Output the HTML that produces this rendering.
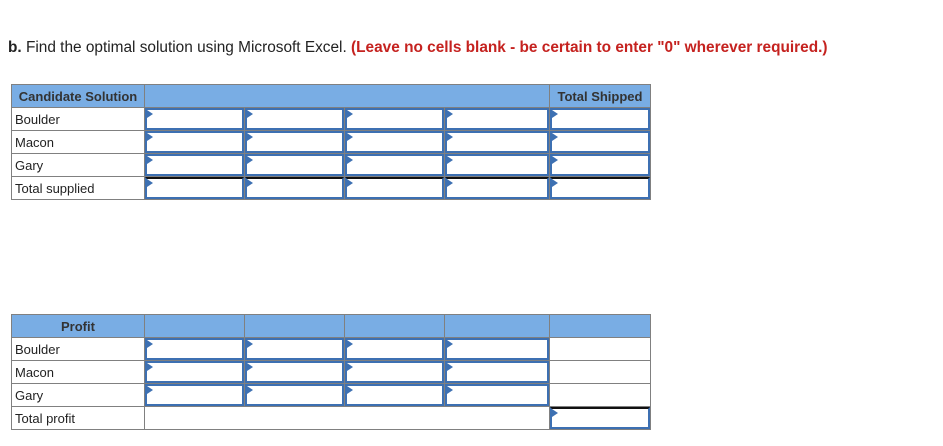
<!DOCTYPE html>
<html><head><style>
body{margin:0;width:943px;height:446px;background:#fff;font-family:"Liberation Sans",Arial,sans-serif;position:relative;overflow:hidden}
.t{position:absolute;left:8px;top:39px;font-size:15.4px;color:#222;white-space:nowrap}
.t b{font-weight:bold}
.r{color:#c5221f;font-weight:bold}
table{position:absolute;left:11px;border-collapse:collapse;table-layout:fixed}
td{border:1px solid #808080;height:23px;padding:0 3px;font-size:13px;color:#222;position:relative;box-sizing:border-box}
tr.h td{background:#79ade4;font-weight:bold;color:#333}
.i{position:absolute;left:0;top:0;right:0;bottom:0;border:2px solid #3d70b2}
.i.k{border-top-color:#111}
.i:before{content:"";position:absolute;left:0;top:0;border-left:6px solid #3d70b2;border-top:4px solid transparent;border-bottom:4px solid transparent}
</style></head><body>
<div class="t"><b>b.</b> Find the optimal solution using Microsoft Excel. <span class="r">(Leave no cells blank - be certain to enter "0" wherever required.)</span></div>
<table style="top:84px">
<colgroup><col style="width:133px"><col style="width:100px"><col style="width:100px"><col style="width:100px"><col style="width:105px"><col style="width:101px"></colgroup>
<tr class="h"><td style="text-align:center">Candidate Solution</td><td colspan="4"></td><td style="text-align:center">Total Shipped</td></tr>
<tr><td>Boulder</td><td><div class="i"></div></td><td><div class="i"></div></td><td><div class="i"></div></td><td><div class="i"></div></td><td><div class="i"></div></td></tr>
<tr><td>Macon</td><td><div class="i"></div></td><td><div class="i"></div></td><td><div class="i"></div></td><td><div class="i"></div></td><td><div class="i"></div></td></tr>
<tr><td>Gary</td><td><div class="i"></div></td><td><div class="i"></div></td><td><div class="i"></div></td><td><div class="i"></div></td><td><div class="i"></div></td></tr>
<tr><td>Total supplied</td><td><div class="i k"></div></td><td><div class="i k"></div></td><td><div class="i k"></div></td><td><div class="i k"></div></td><td><div class="i k"></div></td></tr>
</table>
<table style="top:314px">
<colgroup><col style="width:133px"><col style="width:100px"><col style="width:100px"><col style="width:100px"><col style="width:105px"><col style="width:101px"></colgroup>
<tr class="h"><td style="text-align:center">Profit</td><td></td><td></td><td></td><td></td><td></td></tr>
<tr><td>Boulder</td><td><div class="i"></div></td><td><div class="i"></div></td><td><div class="i"></div></td><td><div class="i"></div></td><td></td></tr>
<tr><td>Macon</td><td><div class="i"></div></td><td><div class="i"></div></td><td><div class="i"></div></td><td><div class="i"></div></td><td></td></tr>
<tr><td>Gary</td><td><div class="i"></div></td><td><div class="i"></div></td><td><div class="i"></div></td><td><div class="i"></div></td><td></td></tr>
<tr><td>Total profit</td><td colspan="4"></td><td><div class="i k"></div></td></tr>
</table>
</body></html>
